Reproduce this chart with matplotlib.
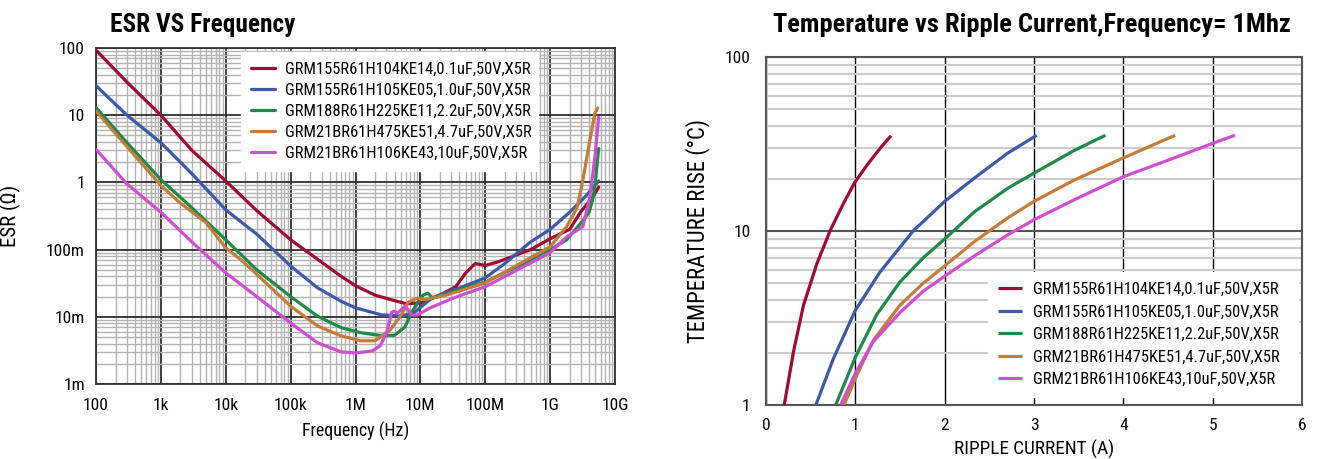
import matplotlib
matplotlib.use('Agg')
import matplotlib.pyplot as plt
from matplotlib import font_manager
from matplotlib.font_manager import FontProperties
from matplotlib.textpath import TextToPath
from matplotlib.ticker import FixedLocator, NullFormatter, LogLocator

# ---------------- data ----------------
labels = ["GRM155R61H104KE14,0.1uF,50V,X5R",
          "GRM155R61H105KE05,1.0uF,50V,X5R",
          "GRM188R61H225KE11,2.2uF,50V,X5R",
          "GRM21BR61H475KE51,4.7uF,50V,X5R",
          "GRM21BR61H106KE43,10uF,50V,X5R"]
colors = ["#9e0b34", "#3d5aa8", "#1f8a48", "#c47c3a", "#cf4fd0"]

# ESR vs frequency (Hz, ohm)
f_red = [100, 300, 1e3, 3e3, 1e4, 3e4, 1e5, 3e5, 6e5, 1e6, 2e6, 3.5e6, 6e6, 1e7, 2e7,
         3.5e7, 5e7, 7e7, 1e8, 1.6e8, 5e8, 1e9, 2e9, 3e9, 4.5e9, 5.6e9]
esr_red = [93, 31, 10, 3.0, 1.05, 0.38, 0.14, 0.065, 0.04, 0.029, 0.021, 0.018, 0.0157,
           0.016, 0.021, 0.028, 0.045, 0.062, 0.058, 0.066, 0.1, 0.145, 0.2, 0.37, 0.6, 0.85]

f_blue = [100, 300, 1e3, 3e3, 1e4, 3e4, 1e5, 2.6e5, 6e5, 1e6, 2.5e6, 5e6, 8e6, 1.2e7,
          1.5e7, 2.5e7, 4.5e7, 1e8, 2e8, 5e8, 1e9, 2e9, 3.5e9, 5.6e9]
esr_blue = [27.5, 10, 3.9, 1.35, 0.39, 0.17, 0.057, 0.027, 0.017, 0.0136, 0.0107, 0.0103,
            0.0115, 0.016, 0.019, 0.023, 0.028, 0.038, 0.062, 0.13, 0.2, 0.36, 0.62, 1.05]

f_green = [100, 300, 1e3, 3e3, 1e4, 3e4, 1e5, 2.6e5, 6e5, 1.2e6, 2.3e6, 4e6, 5.8e6, 7.4e6,
           9e6, 1.1e7, 1.3e7, 1.55e7, 2.5e7, 5e7, 1e8, 3e8, 1e9, 1.8e9, 3.2e9, 4e9, 4.6e9,
           5e9, 5.6e9]
esr_green = [13, 3.9, 1.1, 0.42, 0.14, 0.05, 0.02, 0.0102, 0.0069, 0.0058, 0.0053, 0.0053,
             0.0071, 0.0118, 0.016, 0.021, 0.0225, 0.019, 0.022, 0.027, 0.033, 0.055, 0.1,
             0.14, 0.27, 0.36, 0.6, 1.05, 3.2]

f_orange = [100, 300, 1e3, 2e3, 5e3, 1e4, 1.7e4, 3e4, 1e5, 2.6e5, 6e5, 1.2e6, 2e6, 3.4e6,
            5.1e6, 6.5e6, 9e6, 1.17e7, 2.5e7, 1e8, 1e9, 1.8e9, 2.6e9, 3.2e9, 4.1e9, 4.9e9,
            5.4e9]
esr_orange = [11.5, 3.4, 0.9, 0.49, 0.25, 0.106, 0.071, 0.043, 0.0144, 0.0073, 0.0052,
              0.0044, 0.0044, 0.0063, 0.0107, 0.0166, 0.019, 0.018, 0.021, 0.032, 0.11,
              0.22, 0.42, 1.08, 4.3, 10.7, 12.8]

f_mag = [100, 300, 1e3, 3e3, 1e4, 3e4, 1e5, 2.6e5, 6e5, 1e6, 1.8e6, 2.4e6, 3e6, 3.6e6,
         4e6, 4.4e6, 5.8e6, 7.4e6, 8.9e6, 1.4e7, 3.2e7, 1e8, 1e9, 1.8e9, 3.2e9, 4.1e9,
         4.9e9, 5.6e9]
esr_mag = [3.1, 0.95, 0.36, 0.13, 0.045, 0.02, 0.0081, 0.0041, 0.003, 0.0029, 0.0031,
           0.0037, 0.0057, 0.0117, 0.0122, 0.0112, 0.0145, 0.0107, 0.0106, 0.0135, 0.019,
           0.028, 0.09, 0.155, 0.22, 0.6, 2.4, 9.3]

esr_freqs = [f_red, f_blue, f_green, f_orange, f_mag]
esr_vals = [esr_red, esr_blue, esr_green, esr_orange, esr_mag]

freq_ticks = [1e2, 1e3, 1e4, 1e5, 1e6, 1e7, 1e8, 1e9, 1e10]
freq_ticklabels = ["100", "1k", "10k", "100k", "1M", "10M", "100M", "1G", "10G"]
esr_ticks = [1e-3, 1e-2, 1e-1, 1, 10, 100]
esr_ticklabels = ["1m", "10m", "100m", "1", "10", "100"]

# Temperature rise vs ripple current (A, degC)
i_red = [0.204, 0.31, 0.42, 0.57, 0.72, 0.87, 0.99, 1.13, 1.28, 1.40]
t_red = [1, 2.05, 3.75, 6.5, 10.1, 14.5, 18.9, 23.9, 30, 35.3]
i_blue = [0.558, 0.755, 1.0, 1.275, 1.647, 2.0, 2.33, 2.7, 3.03]
t_blue = [1, 1.85, 3.5, 5.8, 10, 14.8, 20.1, 27.9, 35.5]
i_green = [0.78, 1.0, 1.238, 1.5, 1.758, 2.0, 2.334, 2.706, 3.0, 3.448, 3.8]
t_green = [1, 1.88, 3.3, 5.1, 7.0, 9.0, 12.9, 17.6, 21.5, 29, 35.5]
i_orange = [0.874, 1.0, 1.2, 1.5, 1.758, 2.0, 2.334, 2.706, 3.0, 3.448, 4.0, 4.58]
t_orange = [1, 1.42, 2.35, 3.75, 5.0, 6.3, 8.7, 11.9, 14.8, 19.6, 26.3, 35.5]
i_mag = [0.836, 1.0, 1.2, 1.5, 1.758, 2.0, 2.334, 2.706, 3.0, 3.448, 4.0, 4.56, 5.0, 5.25]
t_mag = [1, 1.52, 2.31, 3.4, 4.5, 5.5, 7.2, 9.5, 11.6, 15.1, 20.5, 26.2, 31.9, 35.5]

ripple_i = [i_red, i_blue, i_green, i_orange, i_mag]
ripple_t = [t_red, t_blue, t_green, t_orange, t_mag]
current_ticks = [0, 1, 2, 3, 4, 5, 6]
temp_ticks = [1, 10, 100]

title_left = 'ESR VS Frequency'
title_right = 'Temperature vs Ripple Current,Frequency= 1Mhz'

# ---------------- font selection (prefer a condensed face) ----------------
ents = font_manager.fontManager.ttflist
names = {f.name for f in ents}
FAMILY, STRETCH = 'DejaVu Sans', 'normal'
chosen = False
for n in ['Liberation Sans Narrow', 'Roboto Condensed', 'Noto Sans Condensed',
          'Open Sans Condensed', 'DejaVu Sans Condensed', 'Noto Sans SemiCondensed',
          'Open Sans SemiCondensed']:
    if n in names:
        FAMILY, chosen = n, True
        break
if not chosen:
    for f in ents:
        if ('Condensed' in f.name or 'Narrow' in f.name) and 'Extra' not in f.name \
                and 'Mono' not in f.name and 'Serif' not in f.name:
            FAMILY, chosen = f.name, True
            break
if not chosen:
    for f in ents:
        if f.name in ('DejaVu Sans', 'Noto Sans', 'Open Sans', 'Roboto') and \
                str(f.stretch) in ('condensed', 'semi-condensed'):
            FAMILY, STRETCH, chosen = f.name, str(f.stretch), True
            break
plt.rcParams['font.family'] = [FAMILY, 'DejaVu Sans']
plt.rcParams['font.stretch'] = STRETCH

_t2p = TextToPath()


def fit(s, target_px, weight='normal'):
    prop = FontProperties(family=[FAMILY, 'DejaVu Sans'], weight=weight,
                          stretch=STRETCH, size=10)
    w, h, d = _t2p.get_text_width_height_descent(s, prop, ismath=False)
    return 10.0 * target_px / (w * 100.0 / 72.0)


FS_TITLE_L = fit(title_left, 185, 'bold')
FS_TITLE_R = fit(title_right, 518, 'bold')
FS_LEG = fit(labels[0], 246)
FS_TICK = fit("100M", 39)
FS_XLAB_L = fit("Frequency (Hz)", 107)
FS_YLAB_L = fit("ESR (\u03a9)", 62)
FS_XLAB_R = fit("RIPPLE CURRENT (A)", 161)
FS_YLAB_R = fit("TEMPERATURE RISE (\u00b0C)", 225)

# ---------------- figure ----------------
W, H = 1317, 459
fig = plt.figure(figsize=(W / 100, H / 100), dpi=100)


def box(l, t, r, b):
    return [l / W, 1 - b / H, (r - l) / W, (b - t) / H]


LW = 2.3
leg_px = FS_LEG * 100 / 72
row_h = 1.17 * leg_px - 4.1   # rendered height of one legend text row

# ---- left: ESR vs frequency ----
ax1 = fig.add_axes(box(96, 48, 615, 384))
ax1.set_xscale('log')
ax1.set_yscale('log')
for fx, ev, c, lab in zip(esr_freqs, esr_vals, colors, labels):
    ax1.plot(fx, ev, color=c, lw=LW, label=lab, solid_capstyle='round', zorder=3)
ax1.set_xlim(1e2, 1e10)
ax1.set_ylim(1e-3, 1e2)
ax1.xaxis.set_major_locator(FixedLocator(freq_ticks))
ax1.set_xticklabels(freq_ticklabels)
ax1.yaxis.set_major_locator(FixedLocator(esr_ticks))
ax1.set_yticklabels(esr_ticklabels)
ax1.xaxis.set_minor_locator(LogLocator(base=10, subs=range(2, 10), numticks=20))
ax1.yaxis.set_minor_locator(LogLocator(base=10, subs=range(2, 10), numticks=20))
ax1.xaxis.set_minor_formatter(NullFormatter())
ax1.yaxis.set_minor_formatter(NullFormatter())
ax1.grid(which='minor', color='#b3b3b3', lw=1.0, zorder=0)
ax1.grid(which='major', color='#2e2e2e', lw=1.3, zorder=1)
ax1.set_axisbelow(True)
ax1.tick_params(which='both', length=0, labelsize=FS_TICK)
ax1.tick_params(axis='x', pad=10)
ax1.tick_params(axis='y', pad=8)
for s in ax1.spines.values():
    s.set_color('#333333')
    s.set_linewidth(1.3)
ax1.set_xlabel('Frequency (Hz)', fontsize=FS_XLAB_L)
ax1.set_ylabel('ESR (\u03a9)', fontsize=FS_YLAB_L)
ax1.xaxis.set_label_coords(0.5, -0.112)
ax1.yaxis.set_label_coords(-0.145, 0.5)
leg1 = ax1.legend(loc='upper left', bbox_to_anchor=(0.279, 0.988, 0.572, 0.0),
                  mode='expand', fontsize=FS_LEG, frameon=True, fancybox=False,
                  facecolor='white', edgecolor='white', framealpha=1.0,
                  handlelength=24 / leg_px, handletextpad=10 / leg_px,
                  labelspacing=max(0.1, (21.2 - row_h) / leg_px),
                  borderpad=0.6, borderaxespad=0.0)
leg1.set_zorder(5)

fig.text(110 / W, 1 - 32 / H, title_left, fontsize=FS_TITLE_L, fontweight='bold',
         ha='left', va='baseline')

# ---- right: temperature vs ripple current ----
ax2 = fig.add_axes(box(766, 57, 1302, 405))
ax2.set_yscale('log')
for ix, tv, c, lab in zip(ripple_i, ripple_t, colors, labels):
    ax2.plot(ix, tv, color=c, lw=LW, label=lab, solid_capstyle='butt', zorder=3)
ax2.set_xlim(0, 6)
ax2.set_ylim(1, 100)
ax2.xaxis.set_major_locator(FixedLocator(current_ticks))
ax2.set_xticklabels([str(v) for v in current_ticks])
ax2.yaxis.set_major_locator(FixedLocator(temp_ticks))
ax2.set_yticklabels([str(v) for v in temp_ticks])
ax2.yaxis.set_minor_locator(LogLocator(base=10, subs=range(2, 10), numticks=20))
ax2.yaxis.set_minor_formatter(NullFormatter())
ax2.grid(axis='y', which='minor', color='#cccccc', lw=1.5, zorder=0)
ax2.grid(axis='y', which='major', color='#555555', lw=1.5, zorder=1)
ax2.grid(axis='x', which='major', color='#000000', lw=1.0, zorder=1)
ax2.set_axisbelow(True)
ax2.tick_params(which='both', length=0, labelsize=FS_TICK)
ax2.tick_params(axis='x', pad=9)
ax2.tick_params(axis='y', pad=11)
for s in ax2.spines.values():
    s.set_color('#555555')
    s.set_linewidth(1.5)
ax2.set_xlabel('RIPPLE CURRENT (A)', fontsize=FS_XLAB_R)
ax2.set_ylabel('TEMPERATURE RISE (\u00b0C)', fontsize=FS_YLAB_R)
ax2.xaxis.set_label_coords(0.5, -0.10)
ax2.yaxis.set_label_coords(-0.104, 0.5)
leg2 = ax2.legend(loc='lower left', bbox_to_anchor=(0.414, 0.023, 0.579, 0.0),
                  mode='expand', fontsize=FS_LEG, frameon=True, fancybox=False,
                  facecolor='white', edgecolor='white', framealpha=1.0,
                  handlelength=24 / leg_px, handletextpad=11 / leg_px,
                  labelspacing=max(0.1, (22.75 - row_h) / leg_px),
                  borderpad=0.6, borderaxespad=0.0)
leg2.set_zorder(5)

fig.text(1032 / W, 1 - 32 / H, title_right, fontsize=FS_TITLE_R, fontweight='bold',
         ha='center', va='baseline')

fig.savefig('out.png', dpi=100)
